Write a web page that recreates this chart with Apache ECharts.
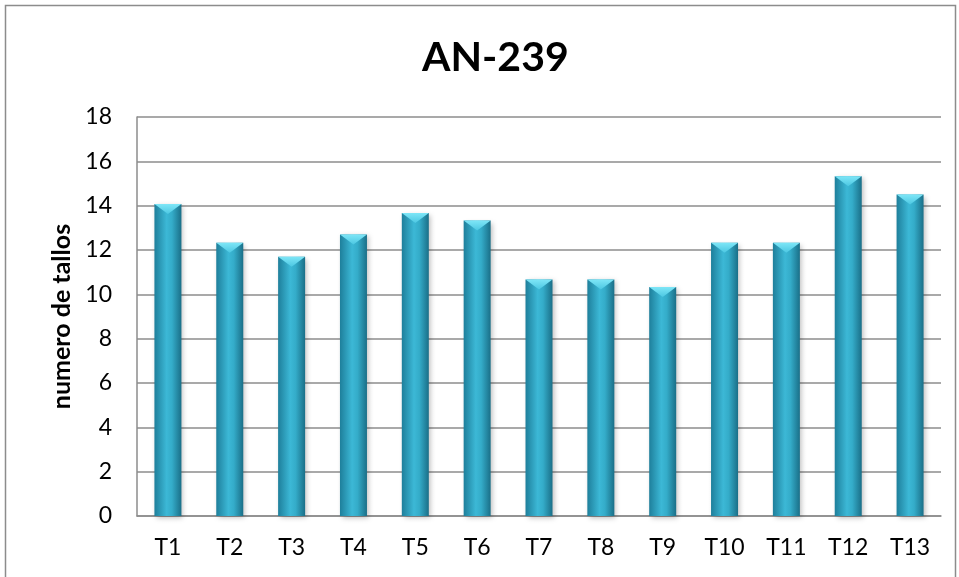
<!DOCTYPE html>
<html><head><meta charset="utf-8">
<script src="https://cdn.jsdelivr.net/npm/echarts@6/dist/echarts.min.js"></script>
<style>html,body{margin:0;padding:0;background:#fff}#c{width:959px;height:577px}</style>
</head><body><div id="c"></div>
<script>
var categories = ['T1','T2','T3','T4','T5','T6','T7','T8','T9','T10','T11','T12','T13'];
var values = [14.07, 12.33, 11.7, 12.7, 13.67, 13.33, 10.67, 10.67, 10.33, 12.33, 12.33, 15.33, 14.5];
var chart = echarts.init(document.getElementById('c'));
var FONT = 'Lato, "Open Sans", sans-serif';
chart.setOption({
  animation: false,
  backgroundColor: '#fff',
  title: {text: 'AN-239', left: 417, top: 32, textStyle: {fontFamily: FONT, fontWeight: 'bold', fontSize: 41, color: '#000'}},
  graphic: [{type: 'rect', shape: {x: 5.5, y: 5.5, width: 950, height: 600}, style: {fill: 'none', stroke: '#8c8c8c', lineWidth: 1.5}, silent: true}],
  grid: {left: 137, right: 18, top: 117, bottom: 61},
  xAxis: {type: 'category', data: categories,
    axisLine: {lineStyle: {color: '#8c8c8c', width: 1.5}}, axisTick: {show: false},
    axisLabel: {fontFamily: FONT, fontSize: 23, color: '#000', margin: 20}},
  yAxis: {type: 'value', min: 0, max: 18, interval: 2,
    name: 'numero de tallos', nameLocation: 'middle', nameGap: 62,
    nameTextStyle: {fontFamily: FONT, fontWeight: 'bold', fontSize: 25, color: '#000'},
    axisLine: {show: true, lineStyle: {color: '#8c8c8c', width: 1.5}}, axisTick: {show: false},
    splitLine: {lineStyle: {color: '#8c8c8c', width: 1.5}},
    axisLabel: {fontFamily: FONT, fontSize: 23, color: '#000', margin: 25}},
  series: [{
    type: 'bar', data: values, barWidth: 27, z: 2,
    itemStyle: {
      color: new echarts.graphic.LinearGradient(0, 0, 1, 0, [
        {offset: 0, color: '#1e7f9b'}, {offset: 0.45, color: '#3cb8d6'}, {offset: 0.65, color: '#34acc9'}, {offset: 1, color: '#1a6f88'}]),
      shadowColor: 'rgba(0,0,0,0.25)', shadowBlur: 5, shadowOffsetX: 2, shadowOffsetY: 2
    }
  }, {
    type: 'pictorialBar', data: values, symbol: 'path://M0,0 L10,0 L5,4 Z', symbolSize: [27, 10],
    symbolPosition: 'end', z: 3,
    itemStyle: {color: new echarts.graphic.LinearGradient(0, 0, 0, 1, [{offset: 0, color: '#7ee6f7'}, {offset: 1, color: '#4cc7e2'}])}
  }]
});
</script></body></html>
